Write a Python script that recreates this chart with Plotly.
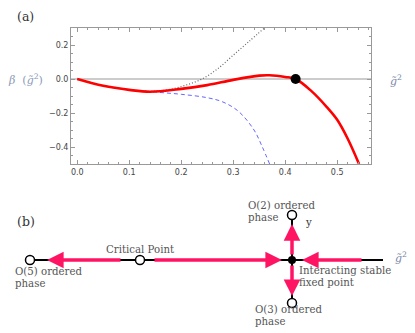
import plotly.graph_objects as go

# ── Datos panel (a): beta(g^2) ─────────────────────────────────────────────
red_g = [0, 0.05, 0.10, 0.14, 0.20, 0.25, 0.30, 0.35, 0.37, 0.40, 0.42, 0.45, 0.48, 0.50, 0.52, 0.542]
red_b = [0, -0.040, -0.064, -0.075, -0.058, -0.036, -0.005, 0.020, 0.022, 0.012, 0.0, -0.070, -0.165, -0.24, -0.35, -0.50]

blue_g = [0, 0.05, 0.10, 0.15, 0.20, 0.25, 0.28, 0.31, 0.34, 0.356, 0.37]
blue_b = [0, -0.040, -0.064, -0.077, -0.090, -0.110, -0.135, -0.19, -0.30, -0.40, -0.50]

dot_g = [0, 0.05, 0.10, 0.15, 0.18, 0.21, 0.24, 0.27, 0.30, 0.33, 0.36]
dot_b = [0, -0.040, -0.064, -0.072, -0.060, -0.035, 0.0, 0.06, 0.14, 0.22, 0.30]

fixed_g = [0.42]
fixed_b = [0.0]

# ── Datos panel (b): diagrama de flujo (coordenadas del esquema) ───────────
axis_x = [30, 383]
axis_y = [260, 260]
vert_x = [292, 292]
vert_y = [215, 303]
open_x = [30, 140, 292, 292]
open_y = [260, 260, 215, 303]
stable_x = [292]
stable_y = [260]
# (cola_x, cola_y, punta_x, punta_y)
flows = [
    (122, 260, 47, 260),
    (153, 260, 282, 260),
    (363, 260, 302, 260),
    (292, 256, 292, 224),
    (292, 264, 292, 296),
]

PINK = "#ff1464"
SERIF = "DejaVu Serif"
GREY_TXT = "#555555"

fig = go.Figure()

fig.add_trace(go.Scatter(x=dot_g, y=dot_b, mode="lines", line=dict(color="#666", width=1.2, dash="1px,2px", shape="spline"),
                         xaxis="x", yaxis="y", hoverinfo="skip"))
fig.add_trace(go.Scatter(x=blue_g, y=blue_b, mode="lines", line=dict(color="#6666ff", width=1, dash="4px,3px", shape="spline"),
                         xaxis="x", yaxis="y", hoverinfo="skip"))
fig.add_trace(go.Scatter(x=red_g, y=red_b, mode="lines", line=dict(color="#ff0000", width=2.6, shape="spline"),
                         xaxis="x", yaxis="y"))
fig.add_trace(go.Scatter(x=fixed_g, y=fixed_b, mode="markers", marker=dict(color="black", size=10),
                         xaxis="x", yaxis="y", cliponaxis=False))

# panel (b)
fig.add_trace(go.Scatter(x=axis_x, y=axis_y, mode="lines", line=dict(color="black", width=2),
                         xaxis="x2", yaxis="y2"))
fig.add_trace(go.Scatter(x=vert_x, y=vert_y, mode="lines", line=dict(color="black", width=2),
                         xaxis="x2", yaxis="y2"))

annotations = []
for tx, ty, hx, hy in flows:
    annotations.append(dict(
        x=hx, y=hy, ax=tx, ay=ty, xref="x2", yref="y2", axref="x2", ayref="y2",
        showarrow=True, arrowhead=2, arrowsize=0.95, arrowwidth=3.5, arrowcolor=PINK, text="",
    ))

fig.add_trace(go.Scatter(x=open_x, y=open_y, mode="markers",
                         marker=dict(color="white", size=9, line=dict(color="black", width=1.5)),
                         xaxis="x2", yaxis="y2", cliponaxis=False))
fig.add_trace(go.Scatter(x=stable_x, y=stable_y, mode="markers", marker=dict(color="black", size=8),
                         xaxis="x2", yaxis="y2", cliponaxis=False))


def txt(x, y, s, size=10.2, color=GREY_TXT, family=SERIF, xanchor="left"):
    annotations.append(dict(x=x, y=y, xref="paper", yref="paper", text=s, showarrow=False,
                            xanchor=xanchor, yanchor="middle", borderpad=0,
                            font=dict(family=family, size=size, color=color)))


W, H = 415, 333
px = lambda v: v / W
py = lambda v: 1 - v / H

txt(px(16), py(17), "(a)", size=12.5, color="#333")
txt(px(16), py(221), "(b)", size=12.5, color="#333")
txt(px(25), py(79), "<i>β</i>  (<i>g̃</i><sup>2</sup>)", size=11, color="#8a9ab8", xanchor="center")
txt(px(396), py(80), "<i>g̃</i><sup>2</sup>", size=11, color="#7a88a8", xanchor="center")
txt(px(401), py(257), "<i>g̃</i><sup>2</sup>", size=11, color="#7a88a8", xanchor="center")

txt(px(140), py(249), "Critical Point", xanchor="center")
txt(px(14), py(271), "O(5) ordered")
txt(px(14), py(283), "phase")
txt(px(247), py(205), "O(2) ordered")
txt(px(247), py(217), "phase")
txt(px(304), py(222), "y", color="#333")
txt(px(298), py(270), "Interacting stable")
txt(px(298), py(282), "fixed point")
txt(px(254), py(309), "O(3) ordered")
txt(px(254), py(321), "phase")

axis_common = dict(showline=True, linecolor="#999", linewidth=1, mirror="ticks", ticks="inside",
                   tickcolor="#999", ticklen=4, showgrid=False, zeroline=False,
                   tickfont=dict(family="DejaVu Sans", size=8, color="#444"))

fig.update_layout(
    width=W, height=H, margin=dict(l=0, r=0, t=0, b=0),
    paper_bgcolor="white", plot_bgcolor="white", showlegend=False,
    xaxis=dict(domain=[px(71), px(371)], range=[-0.012, 0.565], dtick=0.1, tickformat=".1f",
               minor=dict(dtick=0.02, ticks="inside", ticklen=2, tickcolor="#999"), anchor="y", **axis_common),
    yaxis=dict(domain=[py(164), py(28)], range=[-0.5, 0.3], dtick=0.2, tickformat=".1f",
               minor=dict(dtick=0.05, ticks="inside", ticklen=2, tickcolor="#999"), anchor="x", **axis_common),
    xaxis2=dict(domain=[0, 1], range=[0, W], visible=False, anchor="y2"),
    yaxis2=dict(domain=[0, py(183)], range=[H, 183], visible=False, anchor="x2"),
    annotations=annotations,
    shapes=[dict(type="line", xref="x", yref="y", x0=-0.012, x1=0.565, y0=0, y1=0,
                 line=dict(color="#999", width=1), layer="below")],
)

# sin margen del body para que la figura ocupe la ventana completa
fig.write_html("out.html", config={"displayModeBar": False},
               post_script="document.body.style.margin='0';")
